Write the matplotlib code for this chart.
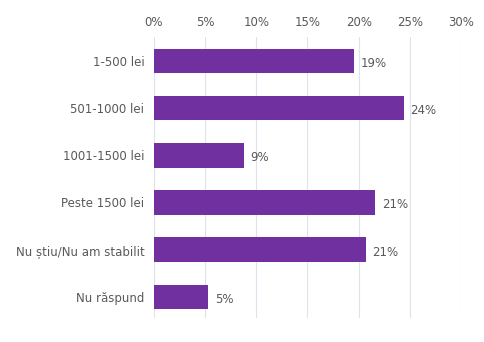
import matplotlib
matplotlib.use("Agg")
import matplotlib.pyplot as plt

# values
categories = ["1-500 lei", "501-1000 lei", "1001-1500 lei", "Peste 1500 lei",
              "Nu știu/Nu am stabilit", "Nu răspund"]
values = [19.5, 24.4, 8.8, 21.6, 20.7, 5.3]
labels = ["19%", "24%", "9%", "21%", "21%", "5%"]
ticks = [0, 5, 10, 15, 20, 25, 30]

plt.rcParams["font.family"] = ["DejaVu Sans"]
fig = plt.figure(figsize=(4.85, 3.42), dpi=100)
ax = fig.add_axes([0.3175, 0.070, 0.633, 0.822])

pos = range(len(categories))
ax.barh(pos, values, height=0.52, color="#7030a0", zorder=3)
for p, v, lab in zip(pos, values, labels):
    ax.text(v + 0.65, p + 0.05, lab, va="center", ha="left", fontsize=8.5, color="#595959")

ax.set_xlim(0, 30)
ax.set_ylim(5.45, -0.51)
ax.set_xticks(ticks)
ax.set_xticklabels([f"{t}%" for t in ticks])
ax.xaxis.tick_top()
ax.set_yticks(list(pos))
ax.set_yticklabels(categories)
ax.tick_params(axis="both", length=0, labelsize=8.5, labelcolor="#595959")
ax.tick_params(axis="x", pad=6)
ax.tick_params(axis="y", pad=7)
ax.grid(axis="x", color="#dce3ec", linewidth=0.8, zorder=0)
for s in ax.spines.values():
    s.set_visible(False)

fig.savefig("out.png", dpi=100)
